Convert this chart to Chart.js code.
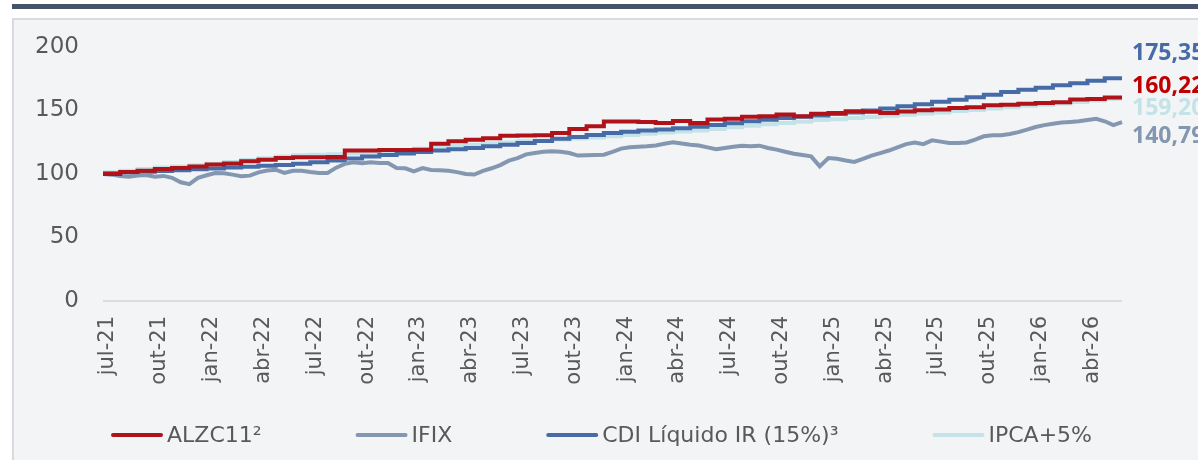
<!DOCTYPE html>
<html lang="pt-BR">
<head>
    <meta charset="UTF-8">
    <title>ALZC11 x IFIX x CDI x IPCA</title>
    <script src="https://cdn.jsdelivr.net/npm/chart.js"></script>
    <style>
        body { margin: 0; background: #ffffff; }
        .topbar {
            position: absolute; left: 12px; top: 4px;
            width: 1186px; height: 5px; background: #44536b;
        }
        .panel {
            position: absolute; left: 12px; top: 18px;
            width: 1200px; height: 470px;
            border: 2px solid #d9dbe0; background: #f3f4f6;
        }
        .chart-box { position: absolute; left: 0; top: 0; width: 1198px; height: 460px; }
    </style>
</head>
<body>
    <div class="topbar"></div>
    <div class="panel"></div>
    <div class="chart-box">
        <canvas id="retornoChart" width="1198" height="460"></canvas>
    </div>
    <script>
        // rotulos do eixo x (um a cada 3 meses, a partir de jul-21)
        const tickLabels = ['jul-21', 'out-21', 'jan-22', 'abr-22', 'jul-22', 'out-22', 'jan-23', 'abr-23',
            'jul-23', 'out-23', 'jan-24', 'abr-24', 'jul-24', 'out-24', 'jan-25', 'abr-25',
            'jul-25', 'out-25', 'jan-26', 'abr-26'];

        // series mensais (base 100 em jul-21)
        const alzc11 = [100, 100, 101.5, 102.5, 104, 104.8, 106, 107.5, 108.2, 110,
            111.3, 112.6, 113.2, 113.2, 113.4, 118.6, 118.6, 118.8, 118.8, 119.0,
            123.9, 125.7, 127.0, 128.1, 130.2, 130.4, 130.6, 132.3, 135.5, 137.6,
            141.3, 141.3, 141.0, 140.2, 141.8, 140.2, 142.9, 143.5, 145.0, 145.5,
            146.8, 145.5, 147.4, 148.0, 149.4, 149.0, 148.1, 149.2, 150.2, 150.8,
            152.0, 152.5, 154.2, 154.5, 155.3, 156.0, 156.4, 158.6, 159.0, 160.22];

        const cdiLiquido = [100, 100.5, 101.1, 101.7, 102.3, 103.0, 103.7, 104.4, 105.1, 105.8,
            106.5, 107.1, 108.0, 109.3, 110.6, 112.3, 113.8, 115.0, 116.2, 117.4,
            118.5, 119.4, 120.5, 121.8, 123.0, 124.5, 126.0, 127.7, 129.2, 130.7,
            132.3, 133.2, 134.2, 135.0, 136.0, 137.2, 138.5, 140.0, 141.5, 142.7,
            144.0, 145.1, 146.0, 147.2, 148.5, 150.0, 151.6, 153.3, 155.0, 156.8,
            158.5, 160.5, 162.5, 164.5, 166.3, 168.0, 169.8, 171.5, 173.4, 175.35];

        const ipca5 = [100, 101.3, 102.6, 103.9, 105.1, 106.0, 106.8, 108.0, 109.5, 111.0,
            112.4, 113.8, 114.7, 115.1, 115.6, 116.2, 116.8, 117.5, 118.5, 119.8,
            121.0, 122.1, 123.0, 124.0, 124.9, 125.7, 126.4, 127.2, 128.0, 128.8,
            129.7, 130.7, 131.7, 132.6, 133.5, 134.3, 135.5, 136.8, 138.0, 139.1,
            140.2, 141.2, 142.5, 143.2, 144.0, 144.9, 145.8, 146.7, 147.6, 148.5,
            149.6, 150.4, 151.5, 152.6, 153.7, 154.6, 155.6, 156.6, 157.9, 159.2];

        // IFIX quinzenal (dois pontos por mes)
        const ifixQuinzenal = [100, 99.5, 98.5, 97.8, 98.8, 99.2, 97.8, 98.5, 97, 93.5,
            92, 97, 99, 100.8, 100.5, 99.5, 98.2, 98.7, 101.3, 102.8,
            103.4, 100.8, 102.5, 102.6, 101.5, 100.8, 100.8, 105, 108, 109.2,
            108.5, 109.2, 108.7, 108.7, 104.7, 104.5, 102, 104.7, 103.2, 103,
            102.5, 101.5, 100, 99.6, 102.5, 104.5, 107, 110.5, 112.5, 115.5,
            116.5, 117.5, 118, 117.5, 116.5, 114.5, 114.7, 115, 115.2, 117.5,
            120, 121, 121.5, 121.8, 122.5, 123.8, 125, 124, 123, 122.5,
            121, 119.5, 120.5, 121.5, 122.3, 121.8, 122.3, 120.5, 119.2, 117.5,
            116, 115, 113.9, 106, 112.5, 112, 110.7, 109.5, 112, 114.5,
            116.5, 118.5, 121, 123.5, 124.8, 123.5, 126.5, 125.5, 124.4, 124.4,
            124.8, 127, 129.7, 130.5, 130.5, 131.5, 133, 135, 137, 138.5,
            139.5, 140.5, 141, 141.5, 142.5, 143.4, 141.5, 138.5, 140.79];

        const mensal = arr => arr.map((v, i) => ({ x: i, y: v }));
        const quinzenal = arr => arr.map((v, i) => ({ x: i / 2, y: v }));

        // linha do eixo x, valores finais a direita e legenda com tracos
        const extras = {
            id: 'extras',
            beforeDatasetsDraw(chart) {
                const ctx = chart.ctx;
                const xs = chart.scales.x;
                ctx.save();
                ctx.strokeStyle = '#dcdcdc';
                ctx.lineWidth = 2;
                ctx.beginPath();
                ctx.moveTo(chart.chartArea.left, chart.chartArea.bottom);
                ctx.lineTo(xs.getPixelForValue(cdiLiquido.length - 1), chart.chartArea.bottom);
                ctx.stroke();
                ctx.restore();
            },
            afterDraw(chart) {
                const ctx = chart.ctx;
                const posY = [86, 136, 53, 108];
                ctx.save();
                ctx.font = 'bold 23px "Open Sans"';
                ctx.textBaseline = 'middle';
                ctx.textAlign = 'left';
                chart.data.datasets.forEach((ds, i) => {
                    const ultimo = ds.data[ds.data.length - 1].y;
                    ctx.fillStyle = ds.labelColor;
                    ctx.fillText(ultimo.toFixed(2).replace('.', ','), 1132, posY[i]);
                });

                // legenda
                ctx.font = '22px "DejaVu Sans"';
                let x = 111;
                const y = 435;
                chart.data.datasets.forEach(ds => {
                    ctx.strokeStyle = ds.borderColor;
                    ctx.lineWidth = 4;
                    ctx.lineCap = 'round';
                    ctx.beginPath();
                    ctx.moveTo(x + 2, y);
                    ctx.lineTo(x + 50, y);
                    ctx.stroke();
                    ctx.fillStyle = '#595959';
                    ctx.fillText(ds.label, x + 56, y + 1);
                    x += 56 + ctx.measureText(ds.label).width + 94;
                });
                ctx.restore();
            }
        };

        Chart.defaults.font.family = '"DejaVu Sans"';
        Chart.defaults.color = '#595959';

        const ctx = document.getElementById('retornoChart').getContext('2d');
        const retornoChart = new Chart(ctx, {
            type: 'line',
            data: {
                datasets: [{
                    label: 'ALZC11²',
                    data: mensal(alzc11),
                    borderColor: '#b01219',
                    labelColor: '#c00000',
                    stepped: 'after'
                }, {
                    label: 'IFIX',
                    data: quinzenal(ifixQuinzenal),
                    borderColor: '#8497b0',
                    labelColor: '#8497b0'
                }, {
                    label: 'CDI Líquido IR (15%)³',
                    data: mensal(cdiLiquido),
                    borderColor: '#476ba6',
                    labelColor: '#476ba6',
                    stepped: 'after'
                }, {
                    label: 'IPCA+5%',
                    data: mensal(ipca5),
                    borderColor: '#c3e3e8',
                    labelColor: '#c3e3e8',
                    stepped: 'after'
                }]
            },
            options: {
                responsive: false,
                animation: false,
                layout: { padding: { left: 13, right: 0, top: 47, bottom: 64 } },
                elements: {
                    line: { borderWidth: 4, tension: 0 },
                    point: { radius: 0 }
                },
                scales: {
                    x: {
                        type: 'linear',
                        min: 0,
                        max: 63.4,
                        grid: { display: false, drawTicks: false },
                        border: { display: false },
                        afterFit: scale => { scale.height = 95; },
                        ticks: {
                            stepSize: 3,
                            includeBounds: false,
                            autoSkip: false,
                            minRotation: 90,
                            maxRotation: 90,
                            padding: 15,
                            labelOffset: 5,
                            font: { size: 21 },
                            callback: value => tickLabels[value / 3]
                        }
                    },
                    y: {
                        min: 0,
                        max: 200,
                        grid: { display: false, drawTicks: false },
                        border: { display: false },
                        afterFit: scale => { scale.width = 90; },
                        ticks: {
                            stepSize: 50,
                            padding: 24,
                            font: { size: 23 }
                        }
                    }
                },
                plugins: {
                    tooltip: { enabled: false },
                    legend: { display: false }
                }
            },
            plugins: [extras]
        });
    </script>
</body>
</html>
